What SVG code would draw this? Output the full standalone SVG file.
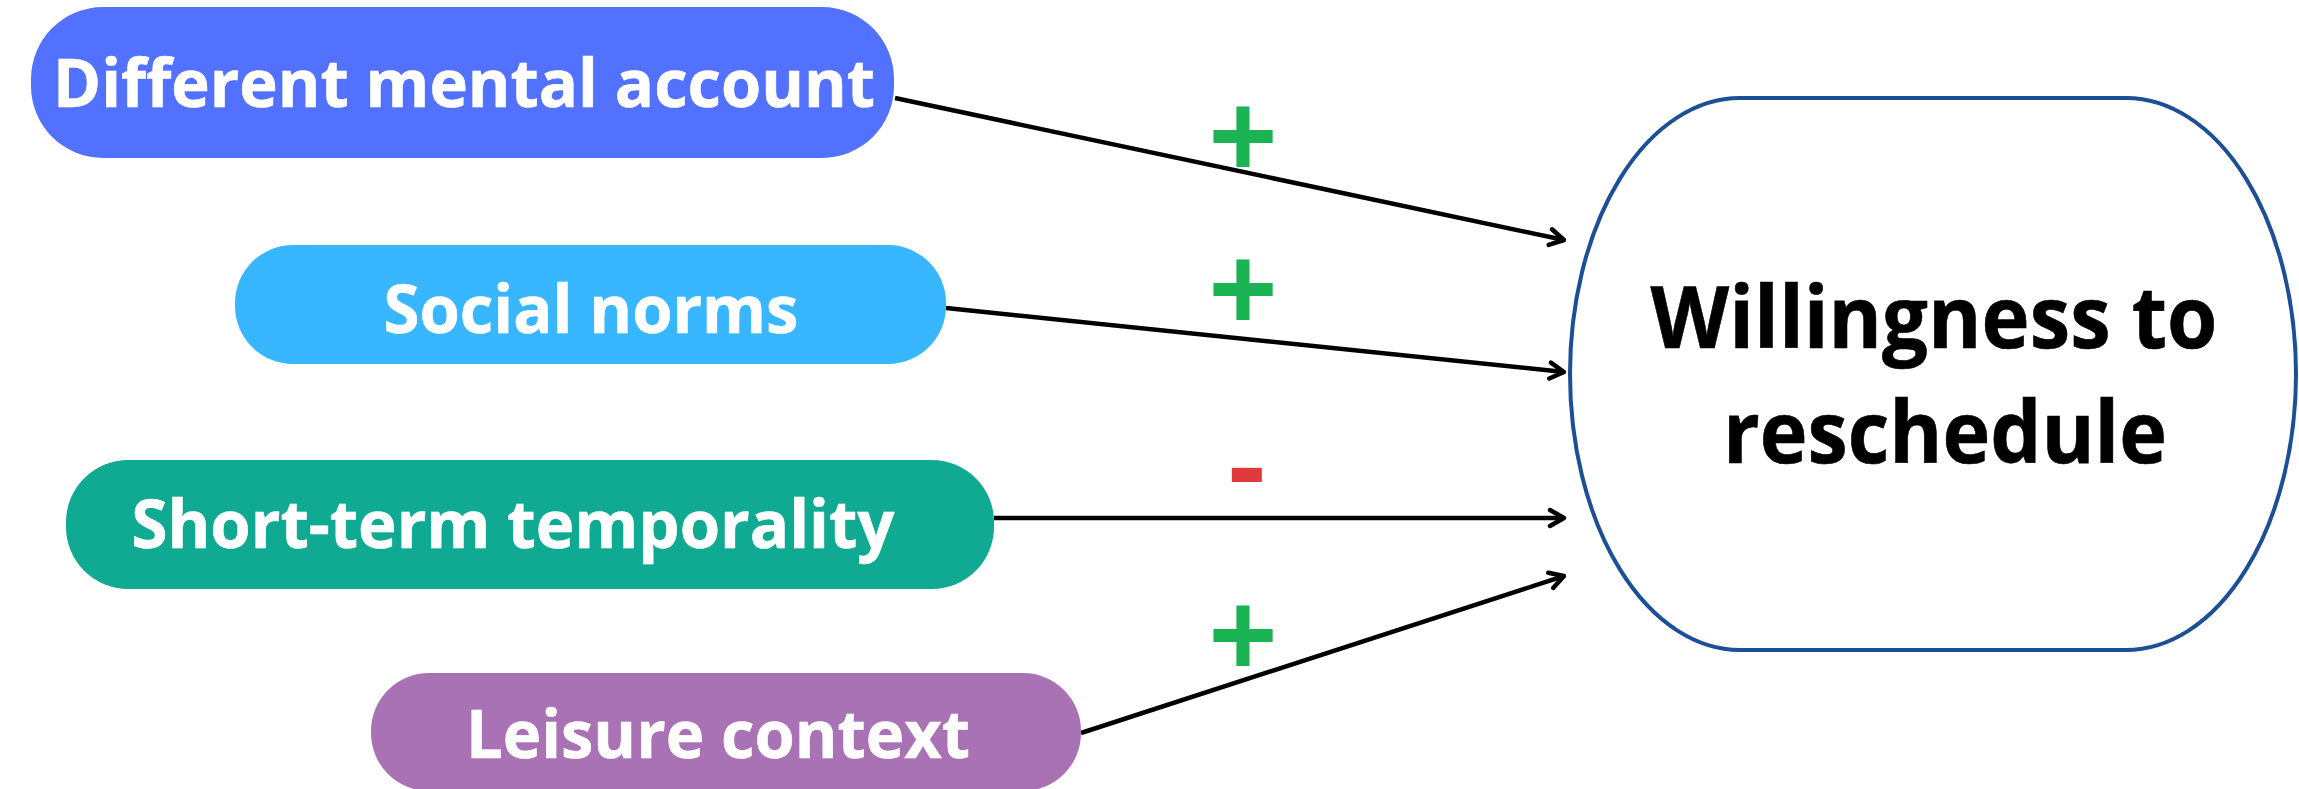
<svg xmlns="http://www.w3.org/2000/svg" width="2299" height="789" viewBox="0 0 2299 789">
<style>
.lbl{font-family:"Open Sans","Noto Sans","Liberation Sans",sans-serif;font-weight:700;fill:#ffffff;stroke:#ffffff;stroke-width:0.6;text-anchor:middle;font-size:66px}
.main{font-family:"Open Sans","Noto Sans","Liberation Sans",sans-serif;font-weight:700;fill:#000000;stroke:#000000;stroke-width:0.6;text-anchor:middle;font-size:86px}
.conn{stroke:#000;stroke-width:4.5;fill:none;marker-end:url(#arr)}
.plus{font-family:"Liberation Sans",Arial,sans-serif;font-weight:700;fill:#1cb354;text-anchor:middle;font-size:118px}
.minus{font-family:"Liberation Sans",Arial,sans-serif;font-weight:700;fill:#e03a3c;text-anchor:middle;font-size:118px}
</style>
<defs>
<marker id="arr" markerUnits="userSpaceOnUse" markerWidth="26" markerHeight="26" viewBox="0 0 26 26" refX="21" refY="13" orient="auto">
<path d="M7,5 L21,13 L7,21" fill="none" stroke="#000" stroke-width="4.5" stroke-linecap="round" stroke-linejoin="round"/>
</marker>
</defs>
<rect width="2299" height="789" fill="#ffffff"/>
<g id="connectors">
<line class="conn" x1="895" y1="98" x2="1564" y2="240"/>
<line class="conn" x1="946" y1="308" x2="1564" y2="372"/>
<line class="conn" x1="994" y1="518" x2="1564" y2="518"/>
<line class="conn" x1="1081" y1="733" x2="1564" y2="576"/>
</g>
<g id="signs">
<text class="plus" x="1243" y="176">+</text>
<text class="plus" x="1243" y="329">+</text>
<text class="minus" x="1247" y="506">-</text>
<text class="plus" x="1243" y="675">+</text>
</g>
<g id="node-different-mental-account">
<rect x="31" y="7" width="863" height="151" rx="72" ry="72" fill="#5271ff"/>
<text class="lbl" x="464" y="107" textLength="822" lengthAdjust="spacingAndGlyphs">Different mental account</text>
</g>
<g id="node-social-norms">
<rect x="235" y="245" width="711" height="119" rx="58" ry="58" fill="#38b6ff"/>
<text class="lbl" x="591" y="333" textLength="415" lengthAdjust="spacingAndGlyphs">Social norms</text>
</g>
<g id="node-short-term-temporality">
<rect x="66" y="460" width="928" height="129" rx="62" ry="62" fill="#10a991"/>
<text class="lbl" x="513" y="548" textLength="763" lengthAdjust="spacingAndGlyphs">Short-term temporality</text>
</g>
<g id="node-leisure-context">
<rect x="371" y="673" width="710" height="118" rx="58" ry="58" fill="#a872b4"/>
<text class="lbl" x="718" y="758" textLength="504" lengthAdjust="spacingAndGlyphs">Leisure context</text>
</g>
<g id="node-willingness">
<rect x="1570" y="98" width="726" height="552" rx="170" ry="276" fill="#ffffff" stroke="#1c4f95" stroke-width="4"/>
<text class="main" x="1934" y="348" textLength="567" lengthAdjust="spacingAndGlyphs">Willingness to</text>
<text class="main" x="1945" y="463" textLength="444" lengthAdjust="spacingAndGlyphs">reschedule</text>
</g>
</svg>
